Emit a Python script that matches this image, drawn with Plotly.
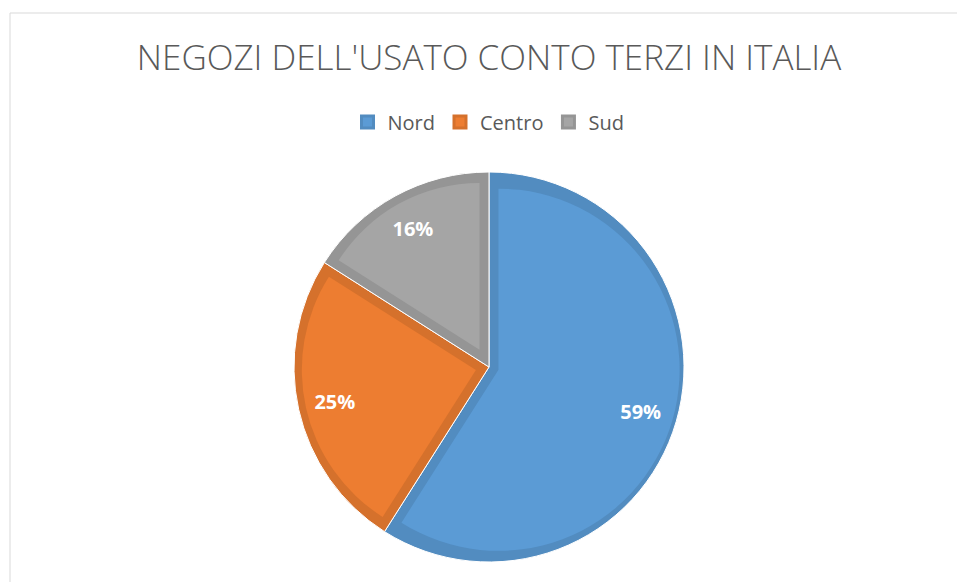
"""
Grafico a torta: negozi dell'usato conto terzi in Italia (Nord / Centro / Sud).
Ricostruito con Plotly; scrive out.html.
"""

import math
import plotly.graph_objects as go

# ----- Dati -----
REGIONI = ["Nord", "Centro", "Sud"]
PERCENTUALI = [59, 25, 16]
TITOLO = "NEGOZI DELL'USATO CONTO TERZI IN ITALIA"

# ----- Stile -----
COLORI = ["#5B9BD5", "#ED7D31", "#A5A5A5"]        # riempimento spicchi
COLORI_BORDO = ["#528CC0", "#D5712C", "#959595"]  # bordo interno più scuro
GRIGIO_TESTO = "#595959"

LARGHEZZA, ALTEZZA = 957, 582
CX, CY, R = 489, 367, 195       # centro e raggio della torta (pixel)
BORDO = 9.5                     # spessore del bordo interno di ogni spicchio
DELTA = [5.5, 2.0, 1.0]         # piccola correzione del raggio per gli spicchi interni

# area del grafico: larga 4R, alta 2R, centrata su (CX, CY)
M_L, M_T = CX - 2 * R, CY - R
M_R = LARGHEZZA - M_L - 4 * R
M_B = ALTEZZA - M_T - 2 * R


def px_x(px):
    """pixel orizzontale -> coordinata paper"""
    return (px - M_L) / (4 * R)


def px_y(py):
    """pixel verticale -> coordinata paper"""
    return 1 - (py - M_T) / (2 * R)


fig = go.Figure()
totale = sum(PERCENTUALI)

# 1) torta "chiara" minuscola, nascosta sotto le altre: serve solo per la legenda
fig.add_trace(go.Pie(
    labels=REGIONI, values=PERCENTUALI, sort=False, direction="clockwise", rotation=0,
    marker=dict(colors=COLORI, line=dict(color=COLORI_BORDO, width=3)),
    textinfo="none", hoverinfo="skip", showlegend=True,
    domain=dict(x=[0.45, 0.55], y=[0.45, 0.55]),
))

# 2) torta piena con i colori scuri (diventano i bordi)
fig.add_trace(go.Pie(
    labels=REGIONI, values=PERCENTUALI, sort=False, direction="clockwise", rotation=0,
    marker=dict(colors=COLORI_BORDO, line=dict(color="white", width=1)),
    textinfo="none", hoverinfo="skip", showlegend=False,
    domain=dict(x=[0, 1], y=[0, 1]),
))

# 3) ogni spicchio chiaro, rimpicciolito e spostato ("pull") così resta il bordo scuro
inizio = 0
for i, (regione, valore) in enumerate(zip(REGIONI, PERCENTUALI)):
    mezzo_angolo = math.pi * valore / totale
    spost = BORDO / math.sin(mezzo_angolo)        # spostamento del vertice
    raggio_est = R - BORDO + DELTA[i]
    pull = spost / (raggio_est - spost)
    frac = raggio_est / (2 * R)
    fig.add_trace(go.Pie(
        labels=[regione, "resto " + regione], values=[valore, totale - valore],
        sort=False, direction="clockwise", rotation=360 * inizio / totale,
        pull=[pull, 0],
        marker=dict(colors=[COLORI[i], "rgba(0,0,0,0)"], line=dict(width=0)),
        textinfo="none", hoverinfo="skip", showlegend=False,
        domain=dict(x=[0, 1], y=[0.5 - frac, 0.5 + frac]),
    ))
    inizio += valore

# 4) etichette percentuali (anello trasparente -> testo a ~0.8 R)
fig.add_trace(go.Pie(
    labels=REGIONI, values=PERCENTUALI, sort=False, direction="clockwise", rotation=0,
    hole=0.62,
    marker=dict(colors=["rgba(0,0,0,0)"] * len(REGIONI), line=dict(width=0)),
    texttemplate="%{value}%", textposition="inside", insidetextorientation="horizontal",
    insidetextfont=dict(family="Open Sans", size=20, color="white", weight="bold"),
    hovertemplate="%{label}: %{value}%<extra></extra>", showlegend=False,
    domain=dict(x=[0, 1], y=[0, 1]),
))

fig.update_layout(
    width=LARGHEZZA, height=ALTEZZA,
    margin=dict(l=M_L, r=M_R, t=M_T, b=M_B, autoexpand=False),
    paper_bgcolor="white", plot_bgcolor="white",
    title=dict(
        text=TITOLO, x=0.5, xref="paper", xanchor="center",
        y=1 - 58 / ALTEZZA, yref="container", yanchor="middle",
        font=dict(family="Open Sans", size=35, color=GRIGIO_TESTO, weight=300),
    ),
    legend=dict(
        orientation="h", x=px_x(488.5), xanchor="center", y=px_y(122), yanchor="middle",
        font=dict(family="Open Sans", size=20, color=GRIGIO_TESTO), itemwidth=30,
    ),
    # cornice grigia chiara (visibile sopra e a sinistra)
    shapes=[dict(
        type="rect", xref="paper", yref="paper", layer="below",
        x0=px_x(10), x1=px_x(LARGHEZZA + 50), y0=px_y(ALTEZZA + 50), y1=px_y(13),
        line=dict(color="#D9D9D9", width=1), fillcolor="rgba(0,0,0,0)",
    )],
)

# niente margine del body, così il grafico parte dall'angolo in alto a sinistra
fig.write_html(
    "out.html",
    config={"displayModeBar": False},
    post_script="document.body.style.margin = '0';",
)
